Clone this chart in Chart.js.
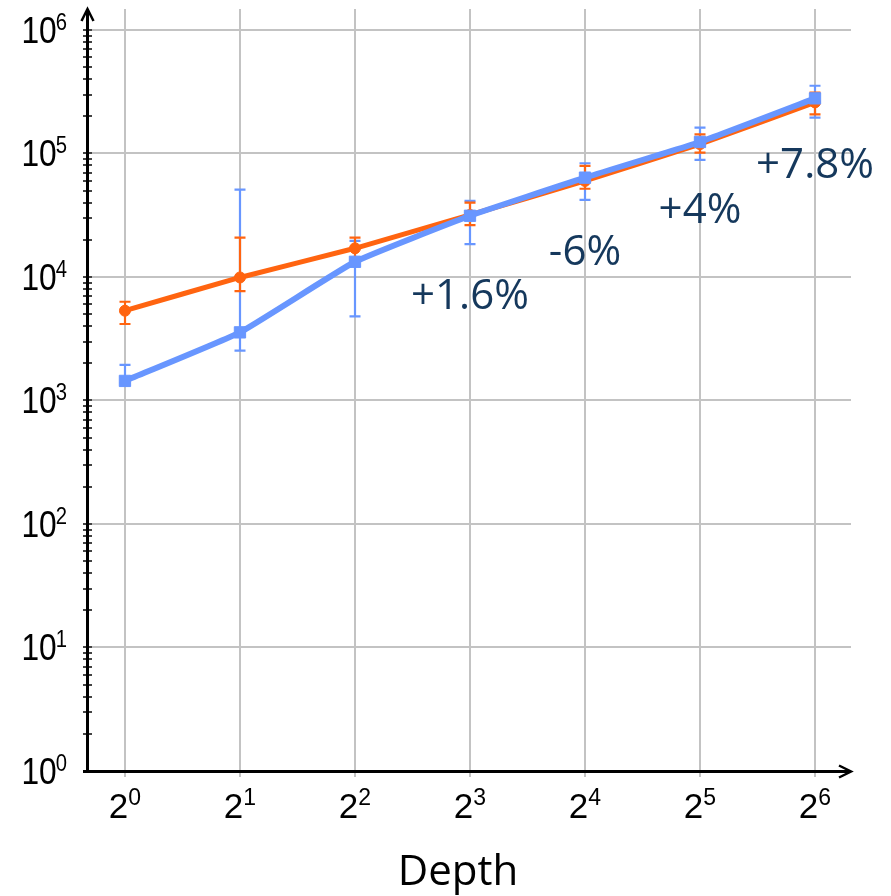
<!DOCTYPE html>
<html>
<head>
<meta charset="utf-8">
<script src="https://cdn.jsdelivr.net/npm/chart.js@4.4.1/dist/chart.umd.min.js"></script>
<style>
  html, body { margin: 0; padding: 0; background: #ffffff; }
  canvas { display: block; }
</style>
</head>
<body>
<canvas id="chart" width="891" height="896"></canvas>
<script>
// Depth is 2^e for each exponent below
const depthExponents = [0, 1, 2, 3, 4, 5, 6];

// Orange series (circles): mean and error range
const orangeMean = [5330, 9910, 17070, 31800, 59900, 119100, 259200];
const orangeLow  = [4160, 7690, 13800, 26300, 51800, 101500, 207500];
const orangeHigh = [6300, 20860, 20850, 40000, 79200, 143000, 311000];

// Blue series (squares): mean and error range
const blueMean = [1440, 3560, 13270, 31300, 63700, 123900, 279400];
const blueLow  = [1380, 2530, 4800, 18460, 42100, 88700, 194800];
const blueHigh = [1940, 51000, 19600, 41300, 83300, 161800, 353300];

// Relative difference notes per depth
const diffLabels = ['', '', '', '+1.6%', '-6%', '+4%', '+7.8%'];

// Decades shown on the value axis (10^k)
const yDecades = [0, 1, 2, 3, 4, 5, 6];

const ORANGE = '#ff6410';
const BLUE = '#6896ff';
const GRID = '#c3c3c3';
const NAVY = '#15385c';
const TICK_FONT = '"Liberation Sans", Arial, sans-serif';
const TEXT_FONT = '"Open Sans", "Noto Sans", sans-serif';

const isDecade = v => Math.abs(Math.log10(v) - Math.round(Math.log10(v))) < 1e-9;

// Error bars sit underneath the lines and markers
const errorBars = {
  id: 'errorBars',
  beforeDatasetsDraw(chart) {
    const { ctx, scales: { x, y } } = chart;
    const groups = [[blueLow, blueHigh, BLUE], [orangeLow, orangeHigh, ORANGE]];
    ctx.save();
    ctx.lineWidth = 2.2;
    for (const [lo, hi, col] of groups) {
      ctx.strokeStyle = col;
      depthExponents.forEach((e, i) => {
        const px = Math.round(x.getPixelForValue(e));
        const y1 = y.getPixelForValue(lo[i]);
        const y2 = y.getPixelForValue(hi[i]);
        ctx.beginPath();
        ctx.moveTo(px, y1); ctx.lineTo(px, y2);
        ctx.moveTo(px - 5.5, y1); ctx.lineTo(px + 5.5, y1);
        ctx.moveTo(px - 5.5, y2); ctx.lineTo(px + 5.5, y2);
        ctx.stroke();
      });
    }
    ctx.restore();
  }
};

// Arrowed axes, minor ticks, power labels, axis title and notes
const decorations = {
  id: 'decorations',
  afterDraw(chart) {
    const { ctx, chartArea: a, scales: { x, y } } = chart;
    ctx.save();

    // minor / major tick dashes across the value axis
    ctx.strokeStyle = '#444444';
    ctx.lineWidth = 2;
    y.ticks.forEach(t => {
      const py = Math.round(y.getPixelForValue(t.value));
      ctx.beginPath();
      ctx.moveTo(a.left - 4, py);
      ctx.lineTo(a.left + 5, py);
      ctx.stroke();
    });

    // axis lines
    ctx.strokeStyle = '#000000';
    ctx.lineWidth = 3;
    const ax = a.left + 0.5;
    const ay = a.bottom + 0.5;
    ctx.beginPath();
    ctx.moveTo(ax, ay + 1.5);
    ctx.lineTo(ax, a.top + 1);
    ctx.moveTo(a.left - 4, ay);
    ctx.lineTo(a.right - 1, ay);
    ctx.stroke();

    // arrow heads
    ctx.lineWidth = 2.5;
    ctx.lineJoin = 'miter';
    ctx.beginPath();
    ctx.moveTo(ax - 6, a.top + 12);
    ctx.lineTo(ax, a.top);
    ctx.lineTo(ax + 6, a.top + 12);
    ctx.moveTo(a.right - 12, ay - 6);
    ctx.lineTo(a.right, ay);
    ctx.lineTo(a.right - 12, ay + 6);
    ctx.stroke();

    // value axis labels: 10 with superscript exponent
    ctx.fillStyle = '#000000';
    ctx.textBaseline = 'alphabetic';
    yDecades.forEach(k => {
      const py = y.getPixelForValue(Math.pow(10, k));
      ctx.save();
      ctx.translate(67, py + 13);
      ctx.scale(0.88, 1);
      ctx.font = '23px ' + TICK_FONT;
      const supW = ctx.measureText(String(k)).width;
      ctx.textAlign = 'left';
      ctx.fillText(String(k), -supW, -13);
      ctx.font = '36px ' + TICK_FONT;
      ctx.textAlign = 'right';
      ctx.fillText('10', -supW + 1, 0);
      ctx.restore();
    });

    // depth axis labels: 2 with superscript exponent
    ctx.textAlign = 'left';
    depthExponents.forEach(e => {
      const px = x.getPixelForValue(e);
      ctx.font = '35px ' + TICK_FONT;
      const w1 = ctx.measureText('2').width;
      ctx.font = '23px ' + TICK_FONT;
      const w2 = ctx.measureText(String(e)).width;
      const start = px - (w1 + w2) / 2;
      ctx.font = '35px ' + TICK_FONT;
      ctx.fillText('2', start, a.bottom + 47);
      ctx.font = '23px ' + TICK_FONT;
      ctx.fillText(String(e), start + w1, a.bottom + 34);
    });

    // axis title
    ctx.font = '42px ' + TEXT_FONT;
    ctx.textAlign = 'center';
    ctx.fillStyle = '#000000';
    ctx.fillText('Depth', (x.left + x.right) / 2 - 11, a.bottom + 114);

    // relative difference notes under the blue error bars
    const noteGap = [0, 0, 0, 65, 65, 63, 60];
    ctx.fillStyle = NAVY;
    depthExponents.forEach((e, i) => {
      if (!diffLabels[i]) return;
      const px = x.getPixelForValue(e);
      const py = y.getPixelForValue(blueLow[i]) + noteGap[i];
      ctx.fillText(diffLabels[i], px, py);
    });

    ctx.restore();
  }
};

const chart = new Chart(document.getElementById('chart'), {
  type: 'line',
  data: {
    datasets: [
      {
        label: 'blue',
        data: depthExponents.map((e, i) => ({ x: e, y: blueMean[i] })),
        borderColor: BLUE,
        backgroundColor: BLUE,
        borderWidth: 6,
        pointStyle: 'rect',
        pointRadius: 8,
        pointBorderWidth: 1,
        tension: 0.12,
        order: 0
      },
      {
        label: 'orange',
        data: depthExponents.map((e, i) => ({ x: e, y: orangeMean[i] })),
        borderColor: ORANGE,
        backgroundColor: ORANGE,
        borderWidth: 5,
        pointStyle: 'circle',
        pointRadius: 5.5,
        pointBorderWidth: 1,
        tension: 0.12,
        order: 1
      }
    ]
  },
  options: {
    responsive: false,
    devicePixelRatio: 1,
    animation: false,
    events: [],
    layout: { padding: { top: 8, right: 40, bottom: 0, left: 0 } },
    plugins: {
      legend: { display: false },
      tooltip: { enabled: false }
    },
    scales: {
      x: {
        type: 'linear',
        min: -0.33,
        max: 6.313,
        bounds: 'data',
        afterBuildTicks: s => { s.ticks = depthExponents.map(v => ({ value: v })); },
        afterFit: s => { s.height = 125; },
        grid: { color: GRID, lineWidth: 2, drawTicks: true, tickLength: 6, tickColor: GRID },
        border: { display: false },
        ticks: { display: false }
      },
      y: {
        type: 'logarithmic',
        min: 1,
        max: 1.478e6,
        bounds: 'data',
        afterBuildTicks: s => {
          const t = [];
          for (let k = 0; k < 6; k++) {
            for (let m = 1; m <= 9; m++) t.push({ value: m * Math.pow(10, k) });
          }
          t.push({ value: 1e6 });
          s.ticks = t;
        },
        afterFit: s => { s.width = 87; },
        grid: {
          color: c => (c.tick && isDecade(c.tick.value)) ? GRID : 'rgba(0,0,0,0)',
          lineWidth: 2,
          drawTicks: false
        },
        border: { display: false },
        ticks: { display: false }
      }
    }
  },
  plugins: [errorBars, decorations]
});
</script>
</body>
</html>
